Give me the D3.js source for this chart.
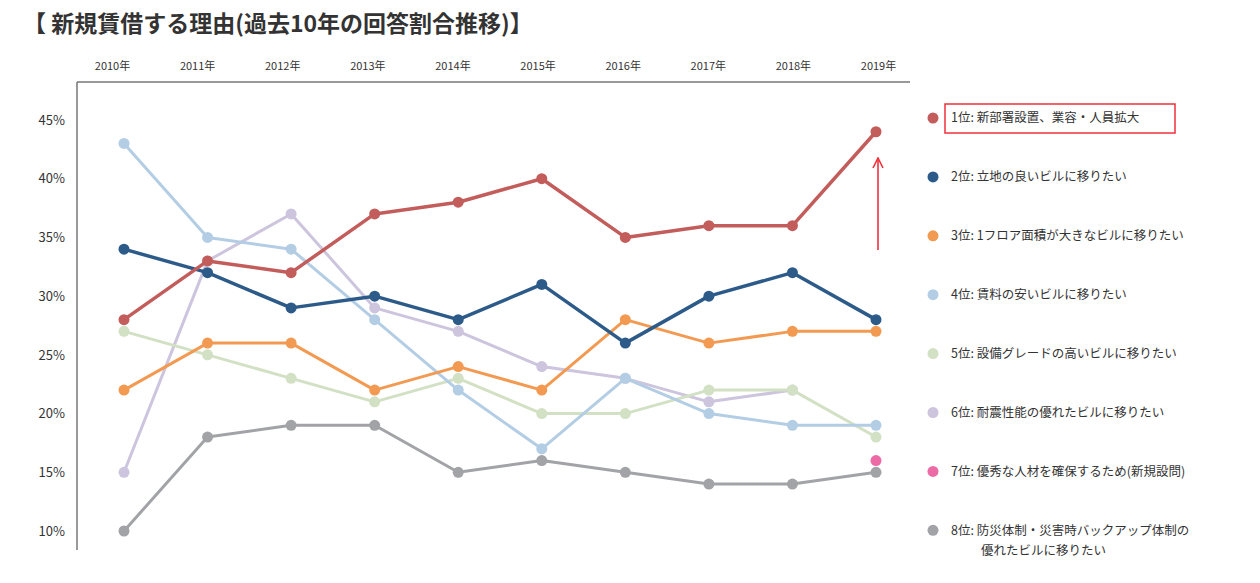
<!DOCTYPE html>
<html>
<head>
<meta charset="utf-8">
<script src="https://cdn.jsdelivr.net/npm/d3@7"></script>
<style>
  body { margin: 0; background: #fff; }
  svg text { font-family: "Noto Sans CJK JP", "Noto Sans", sans-serif; fill: #333; }
</style>
</head>
<body>
<div id="chart"></div>
<script>
// Reasons for new leases: share of answers, 2010-2019
const years = [2010, 2011, 2012, 2013, 2014, 2015, 2016, 2017, 2018, 2019];
const yTicks = [10, 15, 20, 25, 30, 35, 40, 45];

const rank1 = [28, 33, 32, 37, 38, 40, 35, 36, 36, 44];
const rank2 = [34, 32, 29, 30, 28, 31, 26, 30, 32, 28];
const rank3 = [22, 26, 26, 22, 24, 22, 28, 26, 27, 27];
const rank4 = [43, 35, 34, 28, 22, 17, 23, 20, 19, 19];
const rank5 = [27, 25, 23, 21, 23, 20, 20, 22, 22, 18];
const rank6 = [15, 33, 37, 29, 27, 24, 23, 21, 22, null];
const rank7 = [null, null, null, null, null, null, null, null, null, 16];
const rank8 = [10, 18, 19, 19, 15, 16, 15, 14, 14, 15];

const labels = [
  ['1位: 新部署設置、業容・人員拡大'],
  ['2位: 立地の良いビルに移りたい'],
  ['3位: 1フロア面積が大きなビルに移りたい'],
  ['4位: 賃料の安いビルに移りたい'],
  ['5位: 設備グレードの高いビルに移りたい'],
  ['6位: 耐震性能の優れたビルに移りたい'],
  ['7位: 優秀な人材を確保するため(新規設問)'],
  ['8位: 防災体制・災害時バックアップ体制の', '優れたビルに移りたい']
];
const colors = ['#c25d5c', '#2d5b89', '#f39a52', '#b3cde4', '#d2e0c4', '#cdc4de', '#ec6aa6', '#a2a3a7'];
const widths = [3.5, 3.5, 3, 3, 3, 3, 3, 3];

const series = [rank1, rank2, rank3, rank4, rank5, rank6, rank7, rank8].map((vals, i) => ({
  label: labels[i], color: colors[i], width: widths[i],
  values: years.map((yr, j) => ({ year: yr, v: vals[j] })).filter(d => d.v !== null)
}));

const W = 1260, H = 583;
const svg = d3.select('#chart').append('svg').attr('width', W).attr('height', H);

// Title
svg.append('text')
  .attr('x', 23).attr('y', 32)
  .attr('font-size', 23).attr('font-weight', 'bold')
  .text('【 新規賃借する理由(過去10年の回答割合推移)】');

// Scales
const x = d3.scalePoint().domain(years).range([124, 876]);
const xHead = d3.scalePoint().domain(years).range([112, 878]);
const y = d3.scaleLinear().domain([10, 45]).range([531, 120]);

// Frame lines
svg.append('line').attr('x1', 77).attr('x2', 910).attr('y1', 82).attr('y2', 82)
  .attr('stroke', '#777').attr('stroke-width', 1.5);
svg.append('line').attr('x1', 77).attr('x2', 77).attr('y1', 82).attr('y2', 550)
  .attr('stroke', '#777').attr('stroke-width', 1.5);

// Year labels on top
const topAxis = svg.append('g').attr('transform', 'translate(0,66)')
  .call(d3.axisTop(xHead).tickSize(0).tickPadding(0).tickFormat(d => d + '年'));
topAxis.select('.domain').remove();
topAxis.selectAll('text').attr('font-size', 11).attr('dy', '0.35em');

// Y axis labels
const leftAxis = svg.append('g').attr('transform', 'translate(77,0)')
  .call(d3.axisLeft(y).tickValues(yTicks).tickSize(0).tickPadding(12).tickFormat(d => d + '%'));
leftAxis.select('.domain').remove();
leftAxis.selectAll('text').attr('font-size', 13);

// Lines and markers (draw lower ranks first)
const line = d3.line().x(d => x(d.year)).y(d => y(d.v));
const order = [7, 5, 4, 3, 2, 1, 0, 6];
order.forEach(i => {
  const s = series[i];
  const g = svg.append('g');
  g.append('path').datum(s.values)
    .attr('d', line).attr('fill', 'none')
    .attr('stroke', s.color).attr('stroke-width', s.width)
    .attr('stroke-linejoin', 'round');
  g.selectAll('circle').data(s.values).join('circle')
    .attr('cx', d => x(d.year)).attr('cy', d => y(d.v))
    .attr('r', 5.5).attr('fill', s.color);
});

// Red arrow pointing at 2019 rank 1
svg.append('defs').append('marker')
  .attr('id', 'arrow').attr('viewBox', '0 0 12 12')
  .attr('refX', 11).attr('refY', 6).attr('markerWidth', 12).attr('markerHeight', 12)
  .attr('markerUnits', 'userSpaceOnUse').attr('orient', 'auto')
  .append('path').attr('d', 'M1,1 L11,6 L1,11').attr('fill', 'none')
  .attr('stroke', '#f0303c').attr('stroke-width', 1.6);
svg.append('line')
  .attr('x1', x(2019) + 2).attr('x2', x(2019) + 2)
  .attr('y1', 250).attr('y2', 158)
  .attr('stroke', '#f0303c').attr('stroke-width', 1.6)
  .attr('marker-end', 'url(#arrow)');

// Legend
const legend = svg.append('g').attr('transform', 'translate(933,118)');
const rowGap = 58.9;
series.forEach((s, i) => {
  const row = legend.append('g').attr('transform', `translate(0,${i * rowGap})`);
  row.append('circle').attr('r', 5.5).attr('fill', s.color);
  const t = row.append('text').attr('font-size', 12.5);
  s.label.forEach((ln, k) => {
    t.append('tspan').attr('x', k === 0 ? 18 : 48).attr('dy', k === 0 ? '0.35em' : 20).text(ln);
  });
});
// Highlight box around the top reason
legend.append('rect')
  .attr('x', 12).attr('y', -14).attr('width', 230).attr('height', 29)
  .attr('fill', 'none').attr('stroke', '#f0303c').attr('stroke-width', 1.5);
</script>
</body>
</html>
